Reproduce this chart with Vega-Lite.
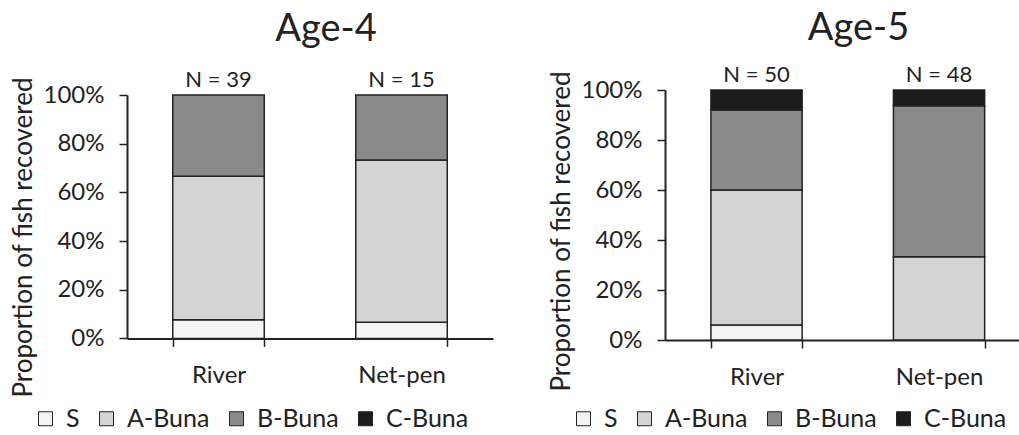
{
  "$schema": "https://vega.github.io/schema/vega-lite/v6.json",
  "background": "white",
  "padding": {"left": 10, "top": 10, "right": 0, "bottom": 0},
  "config": {
    "view": {"stroke": null},
    "font": "Lato",
    "axis": {
      "labelFont": "Lato", "labelFontSize": 24, "labelColor": "#222",
      "domainColor": "#222", "domainWidth": 2,
      "tickColor": "#222", "tickWidth": 1.5, "tickSize": 8,
      "grid": false,
      "titleFont": "Lato", "titleFontSize": 26, "titleFontWeight": "normal", "titleColor": "#222"
    },
    "legend": {
      "labelFont": "Lato", "labelFontSize": 25, "labelColor": "#222",
      "symbolType": "square", "symbolSize": 196, "symbolStrokeColor": "#222", "symbolStrokeWidth": 1,
      "labelOffset": 8, "columnPadding": 14, "padding": 0
    },
    "title": {"font": "Lato", "fontSize": 38, "fontWeight": "normal", "color": "#222"}
  },
  "datasets": {
    "bars": [
      {"age": "Age-4", "site": "River", "group": "S", "k": 1, "value": 0.0769},
      {"age": "Age-4", "site": "River", "group": "A-Buna", "k": 2, "value": 0.5897},
      {"age": "Age-4", "site": "River", "group": "B-Buna", "k": 3, "value": 0.3334},
      {"age": "Age-4", "site": "Net-pen", "group": "S", "k": 1, "value": 0.0667},
      {"age": "Age-4", "site": "Net-pen", "group": "A-Buna", "k": 2, "value": 0.6667},
      {"age": "Age-4", "site": "Net-pen", "group": "B-Buna", "k": 3, "value": 0.2666},
      {"age": "Age-5", "site": "River", "group": "S", "k": 1, "value": 0.06},
      {"age": "Age-5", "site": "River", "group": "A-Buna", "k": 2, "value": 0.54},
      {"age": "Age-5", "site": "River", "group": "B-Buna", "k": 3, "value": 0.32},
      {"age": "Age-5", "site": "River", "group": "C-Buna", "k": 4, "value": 0.08},
      {"age": "Age-5", "site": "Net-pen", "group": "A-Buna", "k": 2, "value": 0.3333},
      {"age": "Age-5", "site": "Net-pen", "group": "B-Buna", "k": 3, "value": 0.6042},
      {"age": "Age-5", "site": "Net-pen", "group": "C-Buna", "k": 4, "value": 0.0625}
    ],
    "labels": [
      {"age": "Age-4", "site": "River", "top": 1, "label": "N = 39"},
      {"age": "Age-4", "site": "Net-pen", "top": 1, "label": "N = 15"},
      {"age": "Age-5", "site": "River", "top": 1, "label": "N = 50"},
      {"age": "Age-5", "site": "Net-pen", "top": 1, "label": "N = 48"}
    ]
  },
  "bounds": "flush",
  "spacing": 172,
  "resolve": {"scale": {"color": "independent"}, "legend": {"color": "independent"}},
  "hconcat": [
    {
      "title": {"text": "Age-4", "frame": "group", "dx": 16, "offset": 20},
      "width": 366,
      "height": 248.4,
      "layer": [
        {
          "data": {"name": "bars"},
          "transform": [{"filter": "datum.age === 'Age-4'"}],
          "mark": {"type": "bar", "stroke": "#222", "strokeWidth": 1.5},
          "encoding": {
            "x": {"field": "site", "type": "nominal", "sort": ["River", "Net-pen"],
                  "scale": {"paddingInner": 0.5, "paddingOuter": 0.25},
                  "axis": {"title": null, "labelAngle": 0, "tickBand": "extent", "labelPadding": 17}},
            "y": {"field": "value", "type": "quantitative", "stack": "zero",
                  "scale": {"domain": [0, 1], "nice": false, "range": [248.4, 5]},
                  "axis": {"format": ".0%", "values": [0, 0.2, 0.4, 0.6, 0.8, 1],
                           "title": "Proportion of fish recovered", "titlePadding": 7, "titleY": 147, "labelPadding": 15}},
            "color": {"field": "group", "type": "nominal",
                      "scale": {"domain": ["S", "A-Buna", "B-Buna", "C-Buna"], "range": ["#f4f4f4", "#d4d4d4", "#8a8a8a", "#1c1c1c"]},
                      "legend": {"title": null, "orient": "none", "direction": "horizontal", "legendX": -94, "legendY": 316}},
            "order": {"field": "k", "type": "quantitative"}
          }
        },
        {
          "data": {"name": "labels"},
          "transform": [{"filter": "datum.age === 'Age-4'"}],
          "mark": {"type": "text", "baseline": "alphabetic", "dy": -8, "fontSize": 22, "font": "Lato", "color": "#222"},
          "encoding": {
            "x": {"field": "site", "type": "nominal", "sort": ["River", "Net-pen"]},
            "y": {"field": "top", "type": "quantitative"},
            "text": {"field": "label"}
          }
        }
      ]
    },
    {
      "title": {"text": "Age-5", "frame": "group", "dx": 16, "offset": 16},
      "width": 355,
      "height": 250,
      "layer": [
        {
          "data": {"name": "bars"},
          "transform": [{"filter": "datum.age === 'Age-5'"}],
          "mark": {"type": "bar", "stroke": "#222", "strokeWidth": 1.5},
          "encoding": {
            "x": {"field": "site", "type": "nominal", "sort": ["River", "Net-pen"],
                  "scale": {"paddingInner": 0.5, "paddingOuter": 0.2226, "align": 0.565},
                  "axis": {"title": null, "labelAngle": 0, "tickBand": "extent", "labelPadding": 17}},
            "y": {"field": "value", "type": "quantitative", "stack": "zero",
                  "scale": {"domain": [0, 1], "nice": false},
                  "axis": {"format": ".0%", "values": [0, 0.2, 0.4, 0.6, 0.8, 1],
                           "title": "Proportion of fish recovered", "titlePadding": 7, "titleY": 141, "labelPadding": 15}},
            "color": {"field": "group", "type": "nominal",
                      "scale": {"domain": ["S", "A-Buna", "B-Buna", "C-Buna"], "range": ["#f4f4f4", "#d4d4d4", "#8a8a8a", "#1c1c1c"]},
                      "legend": {"title": null, "orient": "none", "direction": "horizontal", "legendX": -94, "legendY": 316}},
            "order": {"field": "k", "type": "quantitative"}
          }
        },
        {
          "data": {"name": "labels"},
          "transform": [{"filter": "datum.age === 'Age-5'"}],
          "mark": {"type": "text", "baseline": "alphabetic", "dy": -8, "fontSize": 22, "font": "Lato", "color": "#222"},
          "encoding": {
            "x": {"field": "site", "type": "nominal", "sort": ["River", "Net-pen"]},
            "y": {"field": "top", "type": "quantitative"},
            "text": {"field": "label"}
          }
        }
      ]
    }
  ]
}
